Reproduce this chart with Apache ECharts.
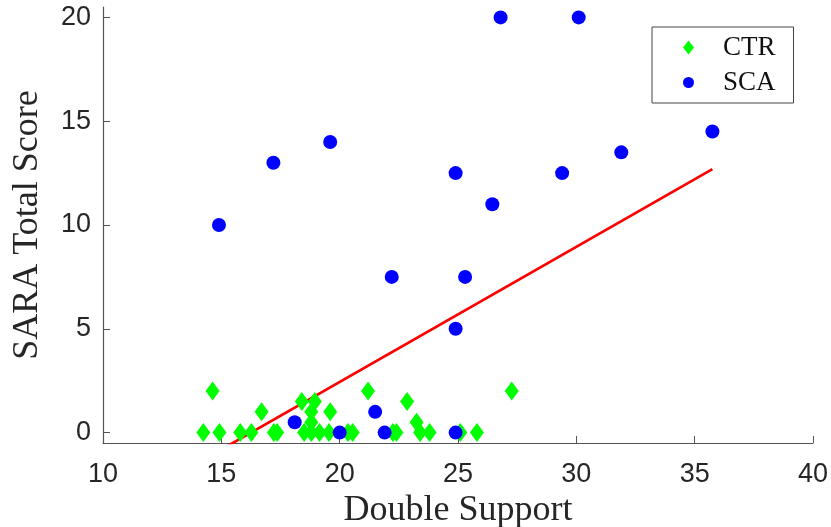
<!DOCTYPE html>
<html>
<head>
<meta charset="utf-8">
<script src="https://cdn.jsdelivr.net/npm/echarts@6/dist/echarts.min.js"></script>
<style>html,body{margin:0;padding:0;background:#fff;}#c{width:831px;height:527px;}</style>
</head>
<body>
<div id="c"></div>
<script>
// ---- data ----
const ctrX = [14.24, 14.92, 15.8, 16.27, 17.22, 17.36, 18.5, 18.8, 19.15, 19.55, 20.35, 20.55, 22.25, 22.4, 23.4, 23.8, 25.1, 25.8, 18.8, 23.25, 16.7, 18.8, 19.6, 18.4, 18.95, 22.85, 14.63, 21.2, 27.27];
const ctrY = [0, 0, 0, 0, 0, 0, 0, 0, 0, 0, 0, 0, 0, 0, 0, 0, 0, 0, 0.5, 0.5, 1, 1, 1, 1.5, 1.5, 1.5, 2, 2, 2];
const scaX = [14.9, 17.2, 19.6, 26.8, 30.1, 24.9, 26.45, 29.4, 31.9, 35.75, 22.2, 25.3, 24.9, 18.1, 20.0, 21.5, 21.9, 24.9];
const scaY = [10, 13, 14, 20, 20, 12.5, 11, 12.5, 13.5, 14.5, 7.5, 7.5, 5, 0.5, 0, 1, 0, 0];
const fitX = [14.24, 35.75];
const fitY = [-1.31, 12.69];
const xTicks = [10, 15, 20, 25, 30, 35, 40];
const yTicks = [0, 5, 10, 15, 20];
const seriesNames = ['CTR', 'SCA'];
const xName = 'Double Support';
const yName = 'SARA Total Score';

const zip = (a, b) => a.map((v, i) => [v, b[i]]);
const axisColor = '#555';
const textColor = '#262626';

const chart = echarts.init(document.getElementById('c'), null, {renderer: 'canvas'});
chart.setOption({
  animation: false,
  backgroundColor: '#fff',
  grid: {left: 103, right: 18, top: 7, bottom: 84, containLabel: false, outerBoundsMode: 'none'},
  xAxis: {
    type: 'value', min: 10, max: 40, interval: 5,
    name: xName, nameLocation: 'middle', nameGap: 43,
    nameTextStyle: {fontFamily: 'Liberation Serif', fontSize: 36, color: textColor},
    axisLine: {show: true, onZero: false, lineStyle: {color: axisColor, width: 1.2}},
    axisTick: {show: true, inside: true, length: 7, customValues: xTicks, lineStyle: {color: axisColor}},
    axisLabel: {fontFamily: 'Liberation Sans', fontSize: 27, color: textColor, margin: 18, customValues: xTicks},
    splitLine: {show: false}
  },
  yAxis: {
    type: 'value', min: -0.5, max: 20.5,
    name: yName, nameLocation: 'middle', nameGap: 57,
    nameTextStyle: {fontFamily: 'Liberation Serif', fontSize: 36, color: textColor},
    axisLine: {show: true, onZero: false, lineStyle: {color: axisColor, width: 1.2}},
    axisTick: {show: true, inside: true, length: 7, customValues: yTicks, lineStyle: {color: axisColor}},
    axisLabel: {fontFamily: 'Liberation Sans', fontSize: 27, color: textColor, margin: 12, customValues: yTicks},
    splitLine: {show: false}
  },
  legend: {
    orient: 'vertical', left: 652, top: 27,
    data: [
      {name: seriesNames[0], icon: 'diamond'},
      {name: seriesNames[1], icon: 'circle'}
    ],
    itemWidth: 11, itemHeight: 14, itemGap: 8,
    padding: [7, 18, 7, 31],
    borderColor: '#444', borderWidth: 1, backgroundColor: '#fff',
    textStyle: {fontFamily: 'Liberation Serif', fontSize: 27, lineHeight: 27, color: '#111', padding: [0, 0, 0, 24]}
  },
  series: [
    {
      type: 'line', data: zip(fitX, fitY), symbol: 'none', clip: true,
      lineStyle: {color: '#ff0000', width: 2.7}, z: 1, silent: true
    },
    {
      name: seriesNames[0], type: 'scatter', data: zip(ctrX, ctrY),
      symbol: 'diamond', symbolSize: [14, 19],
      itemStyle: {color: '#00ff00', opacity: 1}, z: 2
    },
    {
      name: seriesNames[1], type: 'scatter', data: zip(scaX, scaY),
      symbol: 'circle', symbolSize: 14,
      itemStyle: {color: '#0000ff', opacity: 1}, z: 3
    }
  ]
});
</script>
</body>
</html>
